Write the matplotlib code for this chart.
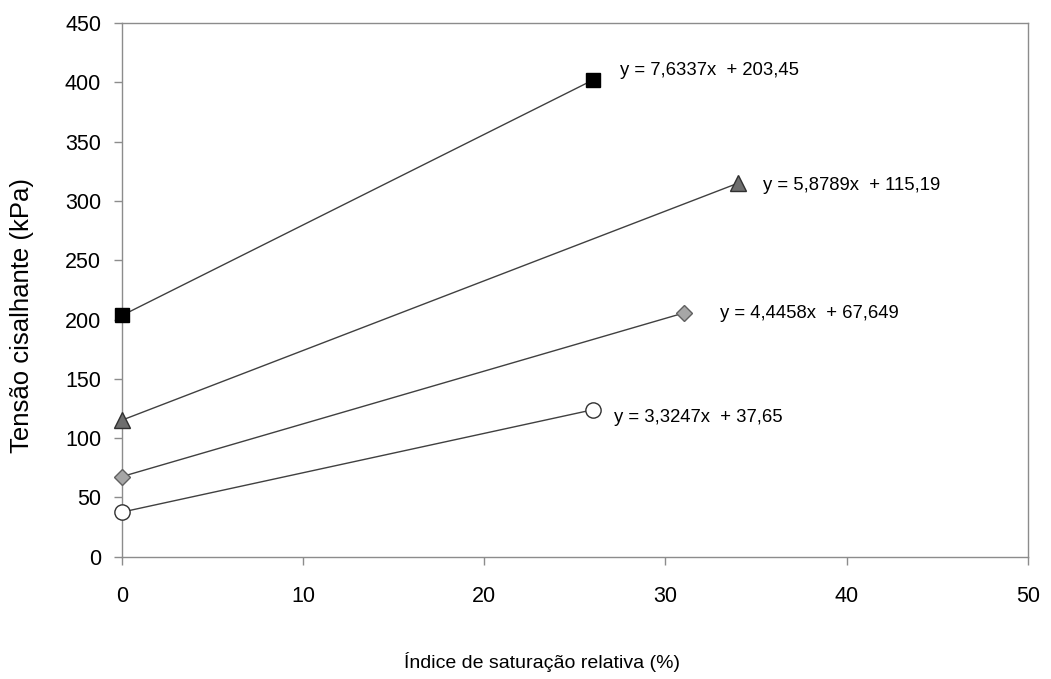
import numpy as np
import matplotlib.pyplot as plt

plt.rcParams['font.family'] = ['Liberation Sans', 'DejaVu Sans']

# saturacao relativa (%) e tensao cisalhante (kPa)
x_quad = [0, 26]
y_quad = [203.45, 402]
x_tri = [0, 34]
y_tri = [115.19, 315]
x_los = [0, 31]
y_los = [67.6, 205.5]
x_circ = [0, 26]
y_circ = [37.65, 124]

eq_labels = ['y = 7,6337x  + 203,45', 'y = 5,8789x  + 115,19',
             'y = 4,4458x  + 67,649', 'y = 3,3247x  + 37,65']

fig = plt.figure(figsize=(10.51, 6.79), dpi=100)
ax = fig.add_axes([0.116, 0.180, 0.862, 0.786])

lc = '#404040'
ax.plot(x_quad, y_quad, '-', color=lc, lw=1, marker='s', ms=10,
        mfc='black', mec='black', zorder=3, clip_on=False)
ax.plot(x_tri, y_tri, '-', color=lc, lw=1, marker='^', ms=11,
        mfc='#6e6e6e', mec='#303030', zorder=3, clip_on=False)
ax.plot(x_los, y_los, '-', color=lc, lw=1, marker='D', ms=8,
        mfc='#a6a6a6', mec='#606060', zorder=3, clip_on=False)
ax.plot(x_circ, y_circ, '-', color=lc, lw=1, marker='o', ms=11,
        mfc='white', mec='#303030', zorder=3, clip_on=False)

ends = [(x_quad[-1], y_quad[-1]), (x_tri[-1], y_tri[-1]),
        (x_los[-1], y_los[-1]), (x_circ[-1], y_circ[-1])]
offs = [(27, 10), (25, -2), (36, 0), (21, -8)]
for (xe, ye), (dx, dy), lab in zip(ends, offs, eq_labels):
    ax.annotate(lab, (xe, ye), xytext=(dx, dy), textcoords='offset pixels',
                ha='left', va='center', fontsize=13.3, color='black')

ax.set_xlim(0, 50)
ax.set_ylim(0, 450)
ax.set_xticks(np.arange(0, 51, 10))
ax.set_yticks(np.arange(0, 451, 50))
for s in ax.spines.values():
    s.set_color('#8c8c8c')
    s.set_linewidth(1)
ax.tick_params(direction='out', length=6, width=1, color='#8c8c8c',
               labelsize=15.5, pad=9)
ax.tick_params(axis='x', pad=15)

fig.text(0.516, 0.025, 'Índice de saturação relativa (%)', fontsize=14,
         ha='center', va='center')
fig.text(0.021, 0.536, 'Tensão cisalhante (kPa)', fontsize=18.5,
         rotation=90, ha='center', va='center')

fig.savefig('out.png', dpi=100)
